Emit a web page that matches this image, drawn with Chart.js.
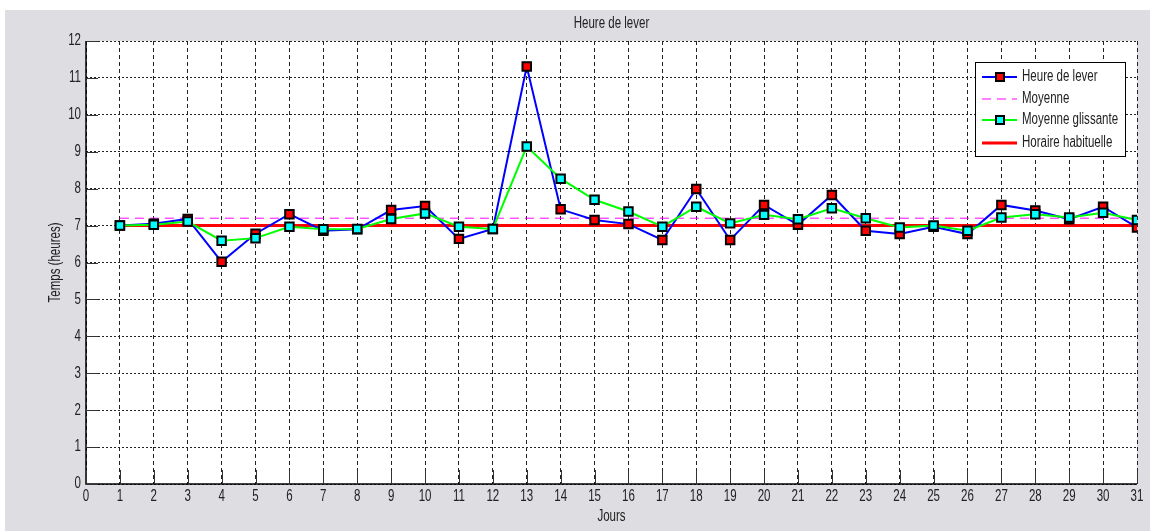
<!DOCTYPE html>
<html>
<head>
<meta charset="utf-8">
<script src="https://cdn.jsdelivr.net/npm/chart.js@4/dist/chart.umd.min.js"></script>
<style>
  html, body { margin: 0; padding: 0; background: #fff; }
  #wrap { width: 1150px; height: 531px; position: relative; }
</style>
</head>
<body>
<div id="wrap"><canvas id="leverChart" width="1150" height="531"></canvas></div>
<script>
const jours = [1, 2, 3, 4, 5, 6, 7, 8, 9, 10, 11, 12, 13, 14, 15, 16, 17, 18, 19, 20, 21, 22, 23, 24, 25, 26, 27, 28, 29, 30, 31];
const heureLever = [7.0, 7.05, 7.18, 6.02, 6.78, 7.31, 6.86, 6.9, 7.42, 7.53, 6.64, 6.91, 11.31, 7.44, 7.15, 7.04, 6.61, 7.99, 6.61, 7.56, 7.02, 7.83, 6.86, 6.77, 6.97, 6.77, 7.56, 7.41, 7.17, 7.51, 6.95];
const moyenneGlissante = [7.0, 7.02, 7.11, 6.59, 6.66, 6.97, 6.9, 6.91, 7.18, 7.33, 6.97, 6.91, 9.14, 8.27, 7.7, 7.38, 6.97, 7.51, 7.06, 7.29, 7.17, 7.47, 7.2, 6.95, 7.0, 6.86, 7.22, 7.31, 7.22, 7.35, 7.15];
const moyenne = 7.2;
const horaireHabituel = 7;
const xTicks = [0, 1, 2, 3, 4, 5, 6, 7, 8, 9, 10, 11, 12, 13, 14, 15, 16, 17, 18, 19, 20, 21, 22, 23, 24, 25, 26, 27, 28, 29, 30, 31];
const yTicks = [0, 1, 2, 3, 4, 5, 6, 7, 8, 9, 10, 11, 12];
const legendeNoms = ['Heure de lever', 'Moyenne', 'Moyenne glissante', 'Horaire habituelle'];

const police = "'Liberation Sans', Arial, sans-serif";
const fondGris = '#dedde2';

function enPoints(valeurs) {
    return jours.map((j, i) => ({ x: j, y: valeurs[i] }));
}

// texte étroit façon MATLAB (police comprimée horizontalement)
function texte(ctx, str, x, y, align, rot) {
    ctx.save();
    ctx.translate(x, y);
    if (rot) ctx.rotate(rot);
    ctx.scale(0.72, 1);
    ctx.font = '16px ' + police;
    ctx.fillStyle = '#222';
    ctx.textAlign = align;
    ctx.textBaseline = 'middle';
    ctx.fillText(str, 0, 0);
    ctx.restore();
}

const matlabPlugin = {
    id: 'matlab',
    beforeDraw(chart) {
        const ctx = chart.ctx;
        const a = chart.chartArea;
        ctx.save();
        ctx.fillStyle = '#fff';
        ctx.fillRect(0, 0, chart.width, chart.height);
        ctx.fillStyle = fondGris;
        ctx.fillRect(5, 10, chart.width - 5, chart.height - 10);
        ctx.fillStyle = '#fff';
        ctx.fillRect(a.left, a.top, a.right - a.left, a.bottom - a.top);
        ctx.restore();
    },
    afterDraw(chart) {
        const ctx = chart.ctx;
        const a = chart.chartArea;
        const xs = chart.scales.x;
        const ys = chart.scales.y;
        ctx.save();

        // axes et graduations internes
        ctx.strokeStyle = '#000';
        ctx.lineWidth = 1.5;
        ctx.setLineDash([]);
        ctx.beginPath();
        ctx.moveTo(a.left, a.top);
        ctx.lineTo(a.left, a.bottom);
        ctx.lineTo(a.right, a.bottom);
        ctx.stroke();

        ctx.lineWidth = 1;
        ctx.strokeStyle = '#333';
        ctx.beginPath();
        xTicks.forEach(v => {
            const px = Math.round(xs.getPixelForValue(v)) + 0.5;
            ctx.moveTo(px, a.bottom);
            ctx.lineTo(px, a.bottom - 14);
        });
        yTicks.forEach(v => {
            const py = Math.round(ys.getPixelForValue(v)) + 0.5;
            ctx.moveTo(a.left, py);
            ctx.lineTo(a.left + 12, py);
        });
        ctx.stroke();

        // étiquettes des graduations
        xTicks.forEach(v => texte(ctx, String(v), xs.getPixelForValue(v), a.bottom + 13, 'center'));
        yTicks.forEach(v => texte(ctx, String(v), a.left - 5, ys.getPixelForValue(v), 'right'));

        // titres
        const cx = (a.left + a.right) / 2;
        texte(ctx, 'Heure de lever', cx, 24, 'center');
        texte(ctx, 'Jours', cx, 517, 'center');
        texte(ctx, 'Temps (heures)', 56, (a.top + a.bottom) / 2, 'center', -Math.PI / 2);

        // légende
        const lx = 975, ly = 62, lw = 150, lh = 94;
        ctx.fillStyle = '#fff';
        ctx.fillRect(lx, ly, lw, lh);
        ctx.strokeStyle = '#000';
        ctx.lineWidth = 1;
        ctx.strokeRect(lx + 0.5, ly + 0.5, lw, lh);
        const lignesY = [77, 99, 120, 143];
        chart.data.datasets.forEach((ds, i) => {
            const yy = lignesY[i];
            ctx.strokeStyle = ds.borderColor;
            ctx.lineWidth = ds.borderWidth;
            ctx.setLineDash(ds.borderDash || []);
            ctx.beginPath();
            ctx.moveTo(982, yy);
            ctx.lineTo(1017, yy);
            ctx.stroke();
            ctx.setLineDash([]);
            if (ds.pointRadius > 0) {
                ctx.fillStyle = ds.pointBackgroundColor;
                ctx.strokeStyle = '#000';
                ctx.lineWidth = 2;
                ctx.fillRect(996, yy - 4, 8, 8);
                ctx.strokeRect(996, yy - 4, 8, 8);
            }
            texte(ctx, legendeNoms[i], 1022, yy, 'left');
        });
        ctx.restore();
    }
};

const ctx = document.getElementById('leverChart').getContext('2d');
new Chart(ctx, {
    type: 'line',
    data: {
        datasets: [
            {
                label: legendeNoms[0],
                data: enPoints(heureLever),
                borderColor: '#0000ff',
                borderWidth: 2,
                pointStyle: 'rect',
                pointRadius: 6,
                pointBackgroundColor: '#ff0000',
                pointBorderColor: '#000',
                pointBorderWidth: 2,
                tension: 0,
                order: 2
            },
            {
                label: legendeNoms[1],
                data: jours.map(j => ({ x: j, y: moyenne })),
                borderColor: '#ff00ff',
                borderWidth: 1,
                borderDash: [9, 6],
                pointRadius: 0,
                tension: 0,
                order: 3
            },
            {
                label: legendeNoms[2],
                data: enPoints(moyenneGlissante),
                borderColor: '#00ff00',
                borderWidth: 2,
                pointStyle: 'rect',
                pointRadius: 6,
                pointBackgroundColor: '#00ffff',
                pointBorderColor: '#000',
                pointBorderWidth: 2,
                tension: 0,
                order: 1
            },
            {
                label: legendeNoms[3],
                data: jours.map(j => ({ x: j, y: horaireHabituel })),
                borderColor: '#ff0000',
                borderWidth: 3,
                pointRadius: 0,
                tension: 0,
                order: 4
            }
        ]
    },
    options: {
        responsive: false,
        animation: false,
        layout: { padding: { top: 41, right: 13, left: 0, bottom: 0 } },
        plugins: {
            legend: { display: false },
            title: { display: false },
            tooltip: { enabled: false }
        },
        scales: {
            x: {
                type: 'linear',
                min: 0,
                max: 31,
                afterFit: s => { s.height = 47; },
                ticks: { stepSize: 1, display: false },
                grid: { color: '#222', lineWidth: 1, drawTicks: false },
                border: { display: false, dash: [4, 3] }
            },
            y: {
                min: 0,
                max: 12,
                afterFit: s => { s.width = 86; },
                ticks: { stepSize: 1, display: false },
                grid: { color: '#222', lineWidth: 1, drawTicks: false },
                border: { display: false, dash: [2, 2] }
            }
        }
    },
    plugins: [matlabPlugin]
});
</script>
</body>
</html>
